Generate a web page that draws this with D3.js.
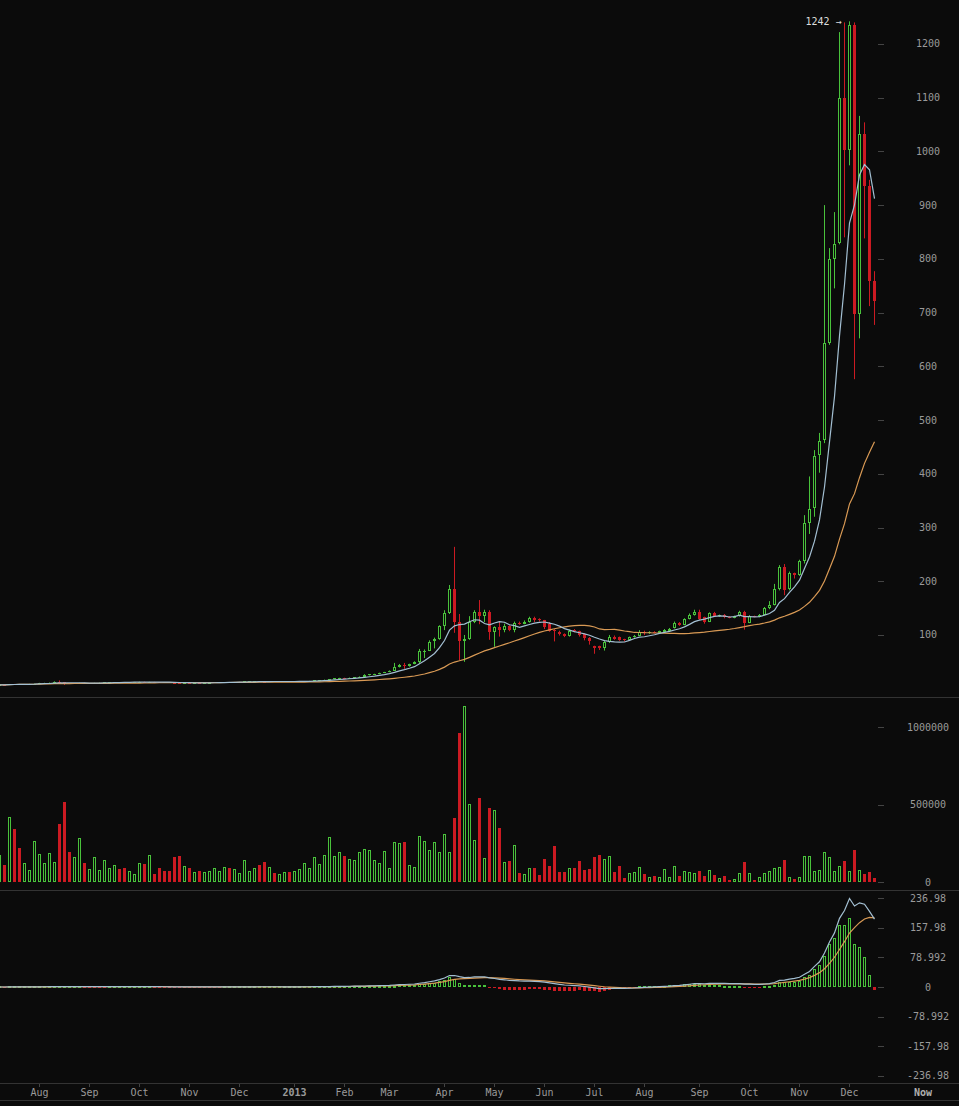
<!DOCTYPE html>
<html><head><meta charset="utf-8">
<script src="https://cdn.jsdelivr.net/npm/d3@7/dist/d3.min.js"></script>
<style>
html,body{margin:0;padding:0;background:#0b0b0b;overflow:hidden;}
svg{display:block;}
text{font-family:"DejaVu Sans Mono",monospace;font-size:10px;}
</style></head><body>
<svg id="c" width="959" height="1106"></svg>
<script>
// ---------- DATA (3-day candles, BTC/USD, from 2012-07-08) ----------
const startDate = "2012-07-08";
const periodDays = 3;

const open = [
 6.8,7.2,7.0,8.6,8.4,8.3,8.6,8.9,9.3,10.6,
 10.9,11.3,13.3,11.8,10.2,9.9,10.4,10.9,10.2,10.4,
 10.9,11.1,11.6,11.9,12.3,12.1,11.9,12.3,12.4,12.9,
 12.4,12.6,12.1,11.8,11.6,11.3,10.9,10.6,10.9,10.8,
 10.9,10.8,11.0,11.2,11.8,12.1,12.4,12.2,12.4,12.5,
 13.4,13.5,13.6,13.3,13.2,13.4,13.3,13.4,13.5,13.4,
 13.6,13.8,14.2,14.5,15.7,15.9,16.9,17.6,19.2,20.0,
 19.7,20.6,21.4,22.7,25.0,26.5,27.2,29.5,31.0,33.5,
 40,45,41.5,46,50,68,71,88,93,117,
 141,185,124,89,92,125,142,135,142,106,
 114,110,116,110,123,121,125,131,129,127,
 120,110,106,102,98,110,107,101,95,80,
 79,75,87.5,97,96,92,91,96,99,106,
 103,106,104,106,108,113,123,119,130,137,
 143,133,125,141,135,137,134,132,135,143,
 123,135,134,138,150,156,185,226,185,215,
 212,238,309,336,434,462,644,800,829,1099,
 1003,1235,697,1032,936,759
];
const high = [
 7.3,7.6,8.8,9.0,8.7,8.8,9.0,9.5,10.9,11.1,
 11.5,13.6,15.4,12.5,10.6,10.5,11.0,11.0,10.5,11.0,
 11.2,11.7,12.0,12.4,12.4,12.2,12.4,12.5,13.0,13.0,
 12.8,12.7,12.2,11.9,11.7,11.4,11.0,11.0,11.0,11.0,
 11.0,11.1,11.3,11.9,12.2,12.5,12.5,12.5,12.6,13.6,
 13.6,13.7,13.7,13.4,13.5,13.5,13.5,13.6,13.6,13.7,
 13.9,14.3,14.6,15.9,16.1,17.0,17.8,19.4,20.3,20.4,
 20.8,21.6,22.9,27.0,27.0,27.8,29.8,31.3,34.0,48,
 46,48,46.5,51,74,73,90,95,118,146,
 193,264,139,100,135,146,165,147,146,116,
 125,121,118,125,125,127,134,134,131,128,
 124,111,108,103,110,111,108,103,96,80,
 80,90,100,99,97,93,97,100,109,108,
 107,107,108,111,113,125,124,131,140,147,
 147,134,142,143,138,139,135,136,145,145,
 137,136,139,152,163,195,230,232,218,216,
 240,323,395,444,476,900,820,887,1222,1240,
 1242,1240,1066,1054,947,777
];
const low = [
 6.6,6.9,7.0,8.2,8.1,8.2,8.5,8.8,9.2,10.4,
 10.7,11.2,11.0,7.1,9.4,9.7,10.2,10.0,10.0,10.3,
 10.8,11.0,11.5,11.8,12.0,11.8,11.8,12.2,12.3,12.2,
 12.3,12.0,11.7,11.5,11.2,10.7,10.4,10.5,10.7,10.7,
 10.7,10.7,10.9,11.1,11.7,12.0,12.1,12.1,12.3,12.4,
 13.2,13.3,13.2,13.0,13.1,13.2,13.2,13.3,13.3,13.3,
 13.5,13.7,14.1,14.4,15.5,15.8,16.7,17.5,19.0,19.2,
 19.6,20.4,21.2,22.5,24.6,26.2,27.0,29.0,30.7,33.0,
 39.5,37,41,45.5,47,57,70,75,91,109,
 139,104,53,50,91,122,120,124,91,78,
 97,105,107,105,119,120,123,124,125,111,
 106,88,99,96,97,105,97,90,82,65,
 72,71,85,91,89,88,90,95,98,100,
 102,103,103,105,107,112,117,118,129,136,
 128,121,124,134,134,131,131,131,134,110,
 122,133,133,137,148,155,183,174,183,205,
 210,233,288,320,402,457,640,745,827,840,
 974,576,652,838,712,677
];
const close = [
 7.2,7.0,8.6,8.4,8.3,8.6,8.9,9.3,10.6,10.9,
 11.3,13.3,11.8,9.8,9.9,10.4,10.9,10.2,10.4,10.9,
 11.1,11.6,11.9,12.3,12.1,11.9,12.3,12.4,12.9,12.4,
 12.6,12.1,11.8,11.6,11.3,10.9,10.6,10.9,10.8,10.9,
 10.8,11.0,11.2,11.8,12.1,12.4,12.2,12.4,12.5,13.4,
 13.5,13.6,13.3,13.2,13.4,13.3,13.4,13.5,13.4,13.6,
 13.8,14.2,14.5,15.7,15.9,16.9,17.6,19.2,20.0,19.7,
 20.6,21.4,22.7,25.0,26.5,27.2,29.5,31.0,33.5,40,
 45,41.5,46,50,70,71,87,93,117,140,
 185,125,89,92,125,142,135,142,106,114,
 110,117,109,123,121,125,131,128,127,114,
 108,107,101,98,108,107,100,94,88,75,
 75,87.5,97,93,91,90,96,99,105,103,
 106,104,107,110,112,123,119,130,137,143,
 130,125,141,136,137,133,132,135,143,123,
 135,134,138,150,156,185,226,184,215,211,
 237,308,334,433,461,643,799,827,1099,1003,
 1235,697,1032,936,759,722
];
const volume = [
 174000,110000,419000,342000,219000,123000,77000,265000,181000,123000,
 187000,129000,374000,516000,194000,161000,284000,123000,84000,161000,
 77000,142000,90000,110000,84000,90000,71000,52000,123000,116000,
 174000,52000,90000,71000,71000,161000,168000,103000,90000,65000,
 71000,65000,71000,90000,71000,97000,90000,84000,58000,142000,
 71000,90000,110000,129000,97000,58000,52000,65000,65000,71000,
 84000,123000,90000,161000,116000,174000,290000,168000,194000,168000,
 148000,142000,194000,213000,206000,142000,123000,200000,90000,258000,
 252000,258000,110000,97000,297000,265000,206000,258000,194000,310000,
 194000,413000,961000,1135000,503000,271000,542000,155000,477000,465000,
 348000,129000,135000,239000,58000,52000,90000,90000,45000,148000,
 103000,232000,65000,65000,90000,90000,135000,77000,84000,161000,
 174000,148000,168000,65000,103000,26000,58000,65000,97000,52000,
 32000,39000,32000,84000,32000,103000,39000,71000,65000,58000,
 71000,39000,77000,45000,26000,39000,13000,19000,58000,129000,
 58000,13000,32000,58000,71000,90000,97000,142000,32000,19000,
 32000,168000,168000,71000,77000,194000,161000,71000,103000,135000,
 71000,206000,77000,52000,65000,26000
];

const priceTicks = [100,200,300,400,500,600,700,800,900,1000,1100,1200];
const volumeTicks = [0,500000,1000000];
const macdTickValues = [236.98,157.98,78.992,0,-78.992,-157.98,-236.98];
const macdTickLabels = ["236.98","157.98","78.992","0","-78.992","-157.98","-236.98"];
const monthTickLabels = ["Aug","Sep","Oct","Nov","Dec","2013","Feb","Mar","Apr","May","Jun","Jul","Aug","Sep","Oct","Nov","Dec"];
const maShort = 7, maLong = 30;

// ---------- STYLE ----------
const BG = "#0b0b0b", GREEN = "#49c23b", RED = "#cc1a22",
      BLUE = "#a3bfd2", ORANGE = "#d99a55", GRID = "#333333",
      TICK = "#444444", LABEL = "#9a9a9a";

const svg = d3.select("#c");
svg.append("rect").attr("width",959).attr("height",1106).attr("fill",BG);

const n = close.length;
const x = d3.scaleLinear().domain([0, n-1]).range([-0.5, 874.5]);
const yP = d3.scaleLinear().domain([0,1200]).range([688.7, 43.9]);
const yV = d3.scaleLinear().domain([0,1e6]).range([882, 727]);
const yM = d3.scaleLinear().domain([-236.98,236.98]).range([1075.7, 898.3]);

const data = d3.range(n).map(i => ({i, o:open[i], h:high[i], l:low[i], c:close[i], v:volume[i], up: close[i] >= open[i]}));

const defs = svg.append("defs");
defs.append("clipPath").attr("id","clipP").append("rect").attr("x",0).attr("y",0).attr("width",876).attr("height",697);
defs.append("clipPath").attr("id","clipV").append("rect").attr("x",0).attr("y",698).attr("width",876).attr("height",192);
defs.append("clipPath").attr("id","clipM").append("rect").attr("x",0).attr("y",891).attr("width",876).attr("height",192);

// ---------- separators ----------
[697.5, 890.5, 1083.5, 1100.5].forEach(yy => {
  svg.append("line").attr("x1",0).attr("x2",959).attr("y1",yy).attr("y2",yy).attr("stroke",GRID).attr("stroke-width",1);
});

// ---------- price candles ----------
const gP = svg.append("g").attr("clip-path","url(#clipP)");
function body(d, yS){
  let a = Math.round(yS(Math.max(d.o,d.c))), b = Math.round(yS(Math.min(d.o,d.c)));
  if (b - a < 1) b = a + 1;
  return [a,b];
}
const cg = gP.selectAll("g.candle").data(data).join("g").attr("class","candle");
cg.append("line")
  .attr("x1", d => x(d.i)).attr("x2", d => x(d.i))
  .attr("y1", d => yP(d.h)).attr("y2", d => body(d,yP)[0])
  .attr("stroke", d => d.up ? GREEN : RED).attr("stroke-width",1);
cg.append("line")
  .attr("x1", d => x(d.i)).attr("x2", d => x(d.i))
  .attr("y1", d => body(d,yP)[1]).attr("y2", d => yP(d.l))
  .attr("stroke", d => d.up ? GREEN : RED).attr("stroke-width",1);
cg.append("rect")
  .attr("x", d => { const [a,b]=body(d,yP); return (d.up && b-a>2) ? x(d.i)-1 : x(d.i)-1.5; })
  .attr("y", d => { const [a,b]=body(d,yP); return (d.up && b-a>2) ? a+0.5 : a; })
  .attr("width", d => { const [a,b]=body(d,yP); return (d.up && b-a>2) ? 2 : 3; })
  .attr("height", d => { const [a,b]=body(d,yP); return (d.up && b-a>2) ? b-a-1 : b-a; })
  .attr("fill", d => { const [a,b]=body(d,yP); return d.up ? (b-a>2 ? "none" : GREEN) : RED; })
  .attr("stroke", d => { const [a,b]=body(d,yP); return (d.up && b-a>2) ? GREEN : "none"; })
  .attr("stroke-width",1);

// moving averages
function sma(N){ return close.map((c,i) => d3.mean(close.slice(Math.max(0,i-N+1), i+1))); }
const ma7 = sma(maShort), ma30 = sma(maLong);
const lineP = d3.line().x((d,i) => x(i)).y(d => yP(d));
gP.append("path").attr("d", lineP(ma30)).attr("fill","none").attr("stroke",ORANGE).attr("stroke-width",1.2);
gP.append("path").attr("d", lineP(ma7)).attr("fill","none").attr("stroke",BLUE).attr("stroke-width",1.2);

// max label
const iMax = d3.maxIndex(high);
svg.append("text").attr("x", x(iMax) - 8).attr("y", yP(high[iMax]) + 3.5)
  .attr("text-anchor","end").attr("fill","#dddddd").text(d3.format("d")(high[iMax]) + " \u2192");

// ---------- volume ----------
const gV = svg.append("g").attr("clip-path","url(#clipV)");
gV.selectAll("rect").data(data).join("rect")
  .attr("x", d => d.up ? x(d.i)-1 : x(d.i)-1.5)
  .attr("y", d => d.up ? Math.round(yV(d.v))+0.5 : Math.round(yV(d.v)))
  .attr("width", d => d.up ? 2 : 3)
  .attr("height", d => d.up ? Math.max(0, 882 - Math.round(yV(d.v)) - 1) : 882 - Math.round(yV(d.v)))
  .attr("fill", d => d.up ? "none" : RED)
  .attr("stroke", d => d.up ? GREEN : "none").attr("stroke-width",1);

// ---------- MACD ----------
function ema(arr, N){ const k = 2/(N+1); const out=[]; arr.forEach((v,i)=>{ out.push(i===0? v : v*k + out[i-1]*(1-k)); }); return out; }
const e12 = ema(close,12), e26 = ema(close,26);
const dif = e12.map((v,i) => v - e26[i]);
const dea = ema(dif, 9);
const hist = dif.map((v,i) => 2*(v - dea[i]));
const gM = svg.append("g").attr("clip-path","url(#clipM)");
const y0 = Math.round(yM(0));
gM.selectAll("rect").data(hist).join("rect")
  .attr("x", (h,i) => h >= 0 ? x(i)-1 : x(i)-1.5)
  .attr("y", h => {
    const yy = Math.round(yM(h));
    if (h >= 0) { return Math.min(yy, y0-1) + 0.5; }
    return y0;
  })
  .attr("width", h => h >= 0 ? 2 : 3)
  .attr("height", h => {
    const yy = Math.round(yM(h));
    if (h >= 0) { return Math.max(1, y0 - Math.min(yy, y0-1) - 1); }
    return Math.max(1, yy - y0);
  })
  .attr("fill", h => h >= 0 ? "none" : RED)
  .attr("stroke", h => h >= 0 ? GREEN : "none").attr("stroke-width",1);
const lineM = d3.line().x((d,i) => x(i)).y(d => yM(d));
gM.append("path").attr("d", lineM(dea)).attr("fill","none").attr("stroke",ORANGE).attr("stroke-width",1.2);
gM.append("path").attr("d", lineM(dif)).attr("fill","none").attr("stroke",BLUE).attr("stroke-width",1.2);

// ---------- right axes ----------
const gA = svg.append("g");
function rightTick(yy, label){
  gA.append("line").attr("x1",878).attr("x2",884).attr("y1",Math.round(yy)+0.5).attr("y2",Math.round(yy)+0.5).attr("stroke",TICK);
  gA.append("text").attr("x",928).attr("y",yy+3.5).attr("text-anchor","middle").attr("fill",LABEL).text(label);
}
priceTicks.forEach(t => rightTick(yP(t), String(t)));
volumeTicks.forEach(t => rightTick(yV(t), String(t)));
macdTickValues.forEach((t,i) => rightTick(yM(t), macdTickLabels[i]));

// ---------- time axis ----------
const d0 = new Date(startDate + "T00:00:00Z");
const months = d3.utcMonths(new Date(Date.UTC(2012,7,1)), new Date(Date.UTC(2013,11,2)));
months.forEach((m,j) => {
  const k = Math.floor((m - d0) / (periodDays*864e5));
  const xx = x(k);
  gA.append("line").attr("x1",xx).attr("x2",xx).attr("y1",1084).attr("y2",1087).attr("stroke",TICK);
  gA.append("text").attr("x",xx).attr("y",1095.5).attr("text-anchor","middle")
    .attr("fill",LABEL).attr("font-weight", monthTickLabels[j]==="2013" ? "bold" : "normal")
    .text(monthTickLabels[j]);
});
gA.append("text").attr("x",923).attr("y",1096).attr("text-anchor","middle").attr("fill","#b0b0b0").attr("font-weight","bold").text("Now");
</script>
</body></html>
